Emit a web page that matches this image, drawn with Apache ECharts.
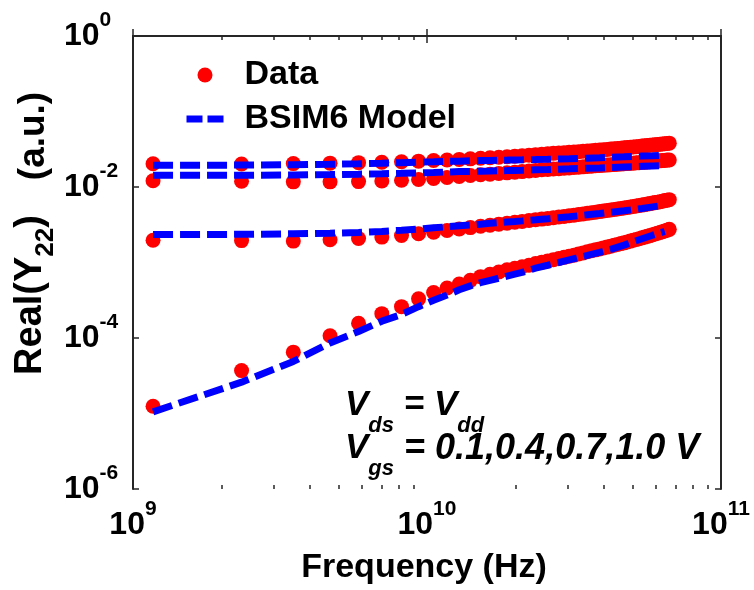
<!DOCTYPE html>
<html><head><meta charset="utf-8">
<script src="https://cdn.jsdelivr.net/npm/echarts@6/dist/echarts.min.js"></script>
<style>html,body{margin:0;padding:0;background:#fff}#c{width:754px;height:590px}</style>
</head><body><div id="c"></div>
<script>
// ---- data (frequency in GHz, Real(Y22) in a.u.) ----
const freqGHz = [1.17,2.34,3.51,4.68,5.85,7.02,8.19,9.36,10.53,11.7,12.87,14.04,15.21,16.38,17.55,18.72,19.89,21.06,22.23,23.4,
  24.57,25.74,26.91,28.08,29.25,30.42,31.59,32.76,33.93,35.1,36.27,37.44,38.61,39.78,40.95,42.12,43.29,44.46,45.63,46.8,
  47.97,49.14,50.31,51.48,52.65,53.82,54.99,56.16,57.33,58.5,59.67,60.84,62.01,63.18,64.35,65.52,66.69];

const dataVgs10 = [0.0203,0.0202,0.0204,0.0207,0.021,0.0213,0.0216,0.022,0.0224,0.0228,0.0232,0.0236,0.024,0.0244,0.0248,0.0252,0.0256,0.026,0.0264,0.0268,
  0.0272,0.0276,0.0279,0.0282,0.0285,0.0288,0.0291,0.0294,0.0297,0.03,0.0303,0.0306,0.0309,0.0312,0.0315,0.0318,0.0321,0.0324,0.0327,0.033,
  0.0333,0.0336,0.0339,0.0342,0.0345,0.0348,0.0351,0.0354,0.0357,0.036,0.0363,0.0366,0.0369,0.0372,0.0375,0.0378,0.0381];
const dataVgs07 = [0.0121,0.0119,0.0117,0.0117,0.0118,0.012,0.0123,0.0126,0.013,0.0134,0.0138,0.0142,0.0145,0.0148,0.0151,0.0154,0.0157,0.016,0.0163,0.0166,
  0.0169,0.0171,0.0173,0.0175,0.0177,0.0179,0.0181,0.0183,0.0185,0.0187,0.0189,0.0191,0.0192,0.0194,0.0195,0.0197,0.0198,0.02,0.0201,0.0203,
  0.0204,0.0206,0.0207,0.0209,0.021,0.0212,0.0213,0.0215,0.0216,0.0218,0.0219,0.0221,0.0222,0.0224,0.0225,0.0227,0.0228];
const dataVgs04 = [1.97e-3,1.95e-3,1.92e-3,2.0e-3,2.08e-3,2.17e-3,2.28e-3,2.4e-3,2.52e-3,2.65e-3,2.78e-3,2.9e-3,3.02e-3,3.12e-3,3.22e-3,3.32e-3,3.42e-3,3.5e-3,3.6e-3,3.68e-3,
  3.76e-3,3.84e-3,3.92e-3,4.0e-3,4.08e-3,4.16e-3,4.24e-3,4.32e-3,4.4e-3,4.48e-3,4.56e-3,4.64e-3,4.72e-3,4.8e-3,4.88e-3,4.96e-3,5.04e-3,5.12e-3,5.2e-3,5.28e-3,
  5.36e-3,5.44e-3,5.52e-3,5.6e-3,5.68e-3,5.76e-3,5.85e-3,5.94e-3,6.03e-3,6.12e-3,6.21e-3,6.3e-3,6.4e-3,6.5e-3,6.6e-3,6.7e-3,6.8e-3];
const dataVgs01 = [1.25e-5,3.7e-5,6.5e-5,1.07e-4,1.57e-4,2.1e-4,2.6e-4,3.3e-4,4.0e-4,4.6e-4,5.2e-4,5.8e-4,6.5e-4,7.0e-4,7.5e-4,8.0e-4,8.4e-4,8.8e-4,9.2e-4,9.7e-4,
  1.01e-3,1.05e-3,1.09e-3,1.13e-3,1.17e-3,1.21e-3,1.25e-3,1.3e-3,1.34e-3,1.39e-3,1.43e-3,1.47e-3,1.51e-3,1.56e-3,1.6e-3,1.64e-3,1.69e-3,1.73e-3,1.78e-3,1.82e-3,
  1.87e-3,1.92e-3,1.97e-3,2.02e-3,2.07e-3,2.12e-3,2.17e-3,2.22e-3,2.27e-3,2.33e-3,2.38e-3,2.44e-3,2.5e-3,2.56e-3,2.62e-3,2.68e-3,2.75e-3];

const modelFreqGHz = [1.17,2.34,3.51,4.68,5.85,7.02,8.19,9.36,10.53,11.7,12.87,14.04,15.21,16.38,17.55,18.72,19.89,21.06,22.23,23.4,
  25.74,28.08,30.42,32.76,35.1,38.61,42.12,46.8,50.31,53.82,58.5,64.35];
const modelVgs10 = [0.0194,0.0195,0.0197,0.02,0.0203,0.0206,0.021,0.0214,0.0216,0.0218,0.022,0.0222,0.0224,0.0225,0.0226,0.0227,0.0228,0.0229,0.023,0.0231,
  0.0233,0.0235,0.0237,0.0239,0.0241,0.0244,0.0247,0.0251,0.0254,0.0257,0.026,0.0264];
const modelVgs07 = [0.0143,0.0143,0.0144,0.0146,0.0148,0.015,0.0152,0.0154,0.0156,0.0158,0.016,0.0161,0.0162,0.0163,0.0164,0.0165,0.0166,0.0167,0.0168,0.0169,
  0.017,0.0172,0.0174,0.0176,0.0177,0.0179,0.0181,0.0184,0.0186,0.0188,0.019,0.0192];
const modelVgs04 = [2.34e-3,2.36e-3,2.4e-3,2.44e-3,2.5e-3,2.58e-3,2.68e-3,2.78e-3,2.88e-3,2.97e-3,3.06e-3,3.14e-3,3.22e-3,3.3e-3,3.37e-3,3.44e-3,3.5e-3,3.56e-3,3.62e-3,3.68e-3,
  3.8e-3,3.92e-3,4.04e-3,4.16e-3,4.28e-3,4.45e-3,4.62e-3,4.85e-3,5.02e-3,5.2e-3,5.45e-3,5.75e-3];
const modelVgs01 = [1.05e-5,2.6e-5,4.9e-5,8.6e-5,1.22e-4,1.67e-4,2.05e-4,2.6e-4,3.16e-4,3.7e-4,4.35e-4,4.9e-4,5.4e-4,5.8e-4,6.2e-4,6.6e-4,7.0e-4,7.4e-4,7.9e-4,8.4e-4,
  9.2e-4,1.0e-3,1.08e-3,1.16e-3,1.24e-3,1.36e-3,1.49e-3,1.7e-3,1.88e-3,2.06e-3,2.3e-3,2.58e-3];

const xTickExponents = [9, 10, 11];
const yTickExponents = [-6, -4, -2, 0];
const minorMultipliers = [2, 3, 4, 5, 6, 7, 8, 9];

// ---- chart ----
const FONT = "'Liberation Sans', Arial, sans-serif";
const frameColor = '#262626';
const chart = echarts.init(document.getElementById('c'), null, {renderer: 'canvas'});

const xMinorExp = [];
[9, 10].forEach(d => minorMultipliers.forEach(m => xMinorExp.push(Math.log10(m) + d)));

function tickRich() {
  return {
    b: {fontSize: 32, fontWeight: 'bold', fontFamily: FONT, color: '#000', lineHeight: 52},
    s: {fontSize: 21, fontWeight: 'bold', fontFamily: FONT, color: '#000', lineHeight: 22, verticalAlign: 'top'}
  };
}
const pairs = (fs, vs) => fs.map((f, i) => [f * 1e9, vs[i]]);

const dataSets = [dataVgs10, dataVgs07, dataVgs04, dataVgs01];
const modelSets = [modelVgs10, modelVgs07, modelVgs04, modelVgs01];

const series = [];
dataSets.forEach(d => series.push({
  type: 'scatter', name: 'Data', xAxisIndex: 0, yAxisIndex: 0,
  data: pairs(freqGHz, d), symbol: 'circle', symbolSize: 15,
  itemStyle: {color: '#ff0000', opacity: 1}, z: 2, silent: true
}));
modelSets.forEach(d => series.push({
  type: 'line', name: 'BSIM6 Model', xAxisIndex: 0, yAxisIndex: 0,
  data: pairs(modelFreqGHz, d), symbol: 'none', showSymbol: false,
  lineStyle: {color: '#0000ff', width: 7, type: [20, 7], cap: 'butt'},
  itemStyle: {color: '#0000ff'}, z: 3, silent: true
}));

const decoX = (pos, minor, withLabels) => ({
  type: 'value', min: 9, max: 11, interval: 1, position: pos,
  axisLine: {show: !minor, lineStyle: {color: frameColor, width: 2}},
  axisTick: minor ? {show: true, inside: true, length: 4, customValues: xMinorExp, lineStyle: {color: frameColor, width: 1.5}}
                  : {show: true, inside: true, length: 7, lineStyle: {color: frameColor, width: 1.5}},
  axisLabel: withLabels ? {
    show: true, margin: 10, customValues: xTickExponents,
    formatter: v => '{b|10}{s|' + v + '}', rich: tickRich()
  } : {show: false},
  splitLine: {show: false}
});
const decoY = (pos, withLabels) => ({
  type: 'value', min: -6, max: 0, interval: 2, position: pos,
  axisLine: {show: true, lineStyle: {color: frameColor, width: 2}},
  axisTick: {show: true, inside: true, length: 6, lineStyle: {color: frameColor, width: 1.5}},
  axisLabel: withLabels ? {
    show: true, align: 'left', margin: 69, customValues: yTickExponents,
    formatter: v => '{b|10}{s|' + v + '}', rich: tickRich()
  } : {show: false},
  splitLine: {show: false}
});

const annoRich = {
  v: {fontSize: 35, fontWeight: 'bold', fontStyle: 'italic', fontFamily: FONT, lineHeight: 40, verticalAlign: 'top'},
  w: {fontSize: 36, fontWeight: 'bold', fontStyle: 'italic', fontFamily: FONT, lineHeight: 40, verticalAlign: 'top'},
  s: {fontSize: 22, fontWeight: 'bold', fontStyle: 'italic', fontFamily: FONT, lineHeight: 49, verticalAlign: 'bottom'}
};

chart.setOption({
  backgroundColor: '#ffffff',
  animation: false,
  grid: {left: 133, right: 33, top: 36, bottom: 101, containLabel: false, outerBoundsMode: 'none'},
  xAxis: [
    {type: 'log', logBase: 10, min: 1e9, max: 1e11, show: false},
    decoX('bottom', false, true),
    decoX('bottom', true, false),
    decoX('top', false, false),
    decoX('top', true, false)
  ],
  yAxis: [
    {type: 'log', logBase: 10, min: 1e-6, max: 1, show: false},
    decoY('left', true),
    decoY('right', false)
  ],
  legend: {
    data: [
      {name: 'Data'},
      {name: 'BSIM6 Model', itemStyle: {opacity: 0}, lineStyle: {type: [16, 5], width: 7, color: '#0000ff'}}
    ],
    orient: 'vertical', left: 178, top: 53,
    itemWidth: 37, itemHeight: 15, itemGap: 10,
    textStyle: {fontSize: 34, fontWeight: 'bold', fontFamily: FONT, color: '#000', lineHeight: 31, padding: [0, 0, 0, 16]},
    selectedMode: false
  },
  graphic: [
    {type: 'text', x: 424, y: 568, silent: true, style: {
      text: 'Frequency (Hz)', font: 'bold 34px ' + FONT, fill: '#000', align: 'center', verticalAlign: 'middle'}},
    {type: 'text', x: 35, y: 295, rotation: Math.PI / 2, silent: true, style: {
      text: '{t|Real(Y}{s|22}{t|)}', align: 'center', verticalAlign: 'middle', fill: '#000',
      rich: {t: {fontSize: 38, fontWeight: 'bold', fontFamily: FONT, lineHeight: 42, verticalAlign: 'top'},
             s: {fontSize: 26, fontWeight: 'bold', fontFamily: FONT, lineHeight: 47, verticalAlign: 'bottom'}}}},
    {type: 'text', x: 34, y: 136, rotation: Math.PI / 2, silent: true, style: {
      text: '(a.u.)', font: 'bold 37px ' + FONT, fill: '#000', align: 'center', verticalAlign: 'middle'}},
    {type: 'text', x: 345, y: 388, silent: true, style: {
      text: '{v|V}{s|ds}{v| = V}{s|dd}', align: 'left', verticalAlign: 'top', fill: '#000', rich: annoRich}},
    {type: 'text', x: 345, y: 431, silent: true, style: {
      text: '{v|V}{s|gs}{w| = 0.1,0.4,0.7,1.0 V}', align: 'left', verticalAlign: 'top', fill: '#000', rich: annoRich}}
  ],
  series: series
});
</script></body></html>
